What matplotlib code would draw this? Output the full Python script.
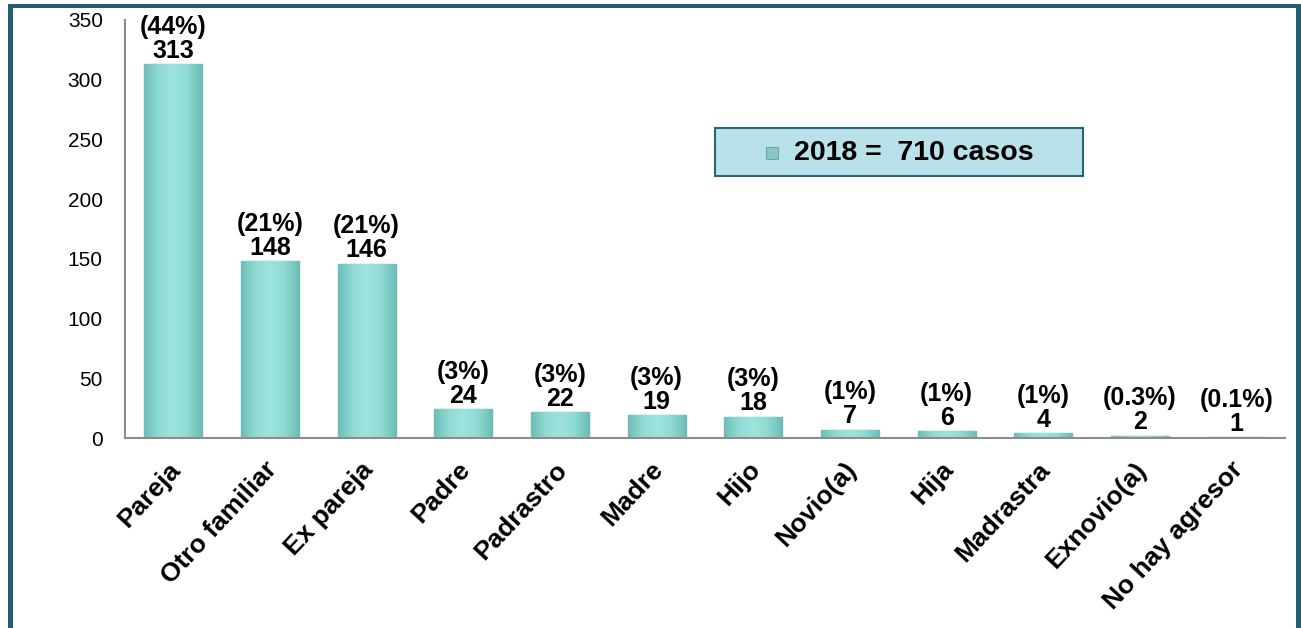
import numpy as np
import matplotlib
matplotlib.use('Agg')
import matplotlib.pyplot as plt
import matplotlib.transforms as mtransforms
from matplotlib.colors import LinearSegmentedColormap
from matplotlib.patches import Rectangle

plt.rcParams['font.family'] = ['Liberation Sans', 'DejaVu Sans']

categorias = ['Pareja', 'Otro familiar', 'Ex pareja', 'Padre', 'Padrastro', 'Madre',
              'Hijo', 'Novio(a)', 'Hija', 'Madrastra', 'Exnovio(a)', 'No hay agresor']
casos = [313, 148, 146, 24, 22, 19, 18, 7, 6, 4, 2, 1]
porcentajes = ['44%', '21%', '21%', '3%', '3%', '3%', '3%', '1%', '1%', '1%', '0.3%', '0.1%']
leyenda = '2018 =  710 casos'

fig = plt.figure(figsize=(13.01, 6.28), dpi=100)
ax = fig.add_axes([125/1301, 1 - 438/628, 1160/1301, 418/628])

x = np.arange(len(categorias))
bars = ax.bar(x, casos, width=0.6, color='#84d3cd', edgecolor='#6db9b4', linewidth=1)

# soft cylinder-like shading on each bar
cmap = LinearSegmentedColormap.from_list('teal', ['#6fbdb7', '#8fdcd5', '#9ee3dc', '#8fdcd5', '#6fbdb7'])
grad = np.linspace(0, 1, 64).reshape(1, -1)
for b in bars:
    im = ax.imshow(grad, cmap=cmap, aspect='auto', zorder=b.get_zorder(),
                   extent=[b.get_x(), b.get_x() + b.get_width(), 0, b.get_height()])
    im.set_clip_path(b)

for xi, v, p in zip(x, casos, porcentajes):
    ax.text(xi, v + 1, f'({p})\n{v}', ha='center', va='bottom', fontsize=18,
            fontweight='bold', linespacing=1.0)

ax.set_xlim(-0.5, len(categorias) - 0.5)
ax.set_ylim(0, 350)
ax.set_yticks(range(0, 351, 50))
ax.tick_params(axis='y', length=0, labelsize=15, pad=16)
ax.tick_params(axis='x', length=0, pad=14)
ax.set_xticks(x)
ax.set_xticklabels(categorias, rotation=47, ha='right', rotation_mode='anchor',
                   fontsize=19, fontweight='bold')
shift = mtransforms.ScaledTranslation(-6/100, 0, fig.dpi_scale_trans)
for lab in ax.get_xticklabels():
    lab.set_transform(lab.get_transform() + shift)
for s in ['top', 'right']:
    ax.spines[s].set_visible(False)
for s in ['left', 'bottom']:
    ax.spines[s].set_color('#8c8c8c')
    ax.spines[s].set_linewidth(1.5)

# legend box
fig.patches.append(Rectangle((715/1301, 1 - 176/628), 368/1301, 48/628,
                             transform=fig.transFigure, facecolor='#b9e1ea',
                             edgecolor='#2a6373', linewidth=1.5))
fig.patches.append(Rectangle((766/1301, 1 - 159/628), 12/1301, 12/628,
                             transform=fig.transFigure, facecolor='#86c9c4',
                             edgecolor='#6aa9a5', linewidth=0.8))
fig.text(794/1301, 1 - 153/628, leyenda, ha='left', va='center', fontsize=20.5,
         fontweight='bold')

# frame
frame_col = '#215e6e'
fig.patches.append(Rectangle((8/1301, 0), 5/1301, 1 - 4/628, transform=fig.transFigure,
                             facecolor=frame_col, edgecolor='none'))
fig.patches.append(Rectangle((8/1301, 1 - 8/628), 1288/1301, 4/628, transform=fig.transFigure,
                             facecolor=frame_col, edgecolor='none'))
fig.patches.append(Rectangle((1296/1301, 0), 5/1301, 1 - 4/628, transform=fig.transFigure,
                             facecolor=frame_col, edgecolor='none'))

fig.savefig('out.png', dpi=100)
